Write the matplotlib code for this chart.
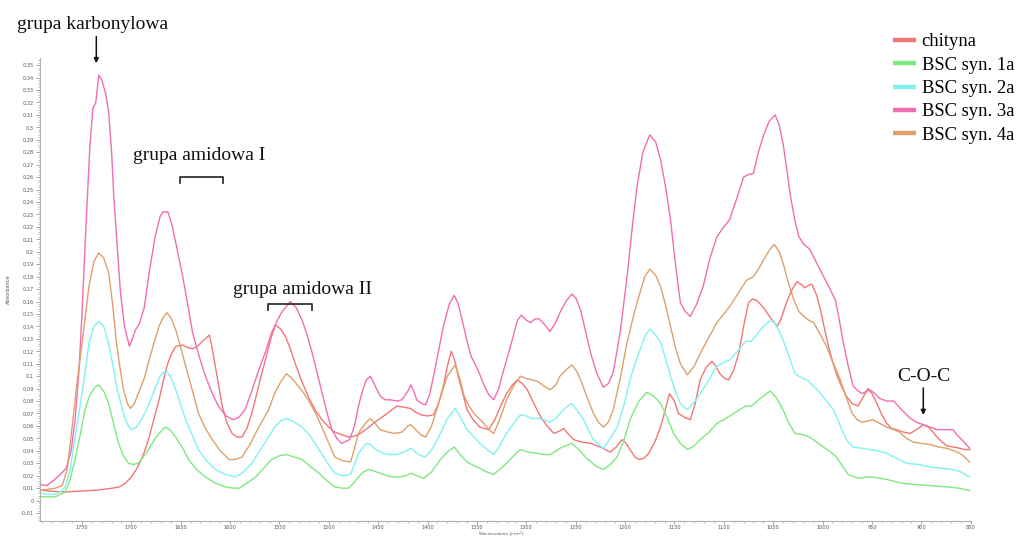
import matplotlib
matplotlib.use("Agg")
import matplotlib.pyplot as plt
from matplotlib.ticker import MultipleLocator, FuncFormatter
from matplotlib.lines import Line2D

# ---- spectra: wavenumber [cm^-1] and absorbance ----
chityna_wn = [1793, 1785, 1774, 1765, 1755, 1743, 1733, 1720, 1712, 1706, 1700, 1695, 1690, 1686, 1682,
              1677, 1672, 1668, 1664, 1660, 1655, 1648, 1643, 1638, 1633, 1628, 1624, 1621, 1618, 1615,
              1611, 1608, 1603, 1598, 1593, 1588, 1583, 1578, 1573, 1568, 1563, 1558, 1554, 1549, 1544,
              1539, 1534, 1528, 1521, 1514, 1507, 1500, 1494, 1487, 1480, 1473, 1468, 1461, 1455, 1448,
              1441, 1436, 1431, 1424, 1417, 1412, 1407, 1400, 1394, 1389, 1384, 1380, 1376, 1372, 1369,
              1364, 1360, 1354, 1347, 1338, 1332, 1326, 1320, 1314, 1309, 1304, 1299, 1293, 1286, 1279,
              1272, 1266, 1262, 1257, 1252, 1244, 1235, 1225, 1215, 1209, 1203, 1199, 1195, 1190, 1186,
              1181, 1176, 1170, 1164, 1159, 1155, 1150, 1146, 1140, 1134, 1129, 1124, 1118, 1112, 1108,
              1104, 1099, 1095, 1090, 1085, 1080, 1075, 1071, 1067, 1062, 1058, 1052, 1046, 1042, 1038,
              1032, 1026, 1022, 1018, 1014, 1011, 1006, 1002, 998, 994, 990, 986, 981, 976, 970,
              964, 959, 954, 950, 945, 940, 935, 930, 925, 918, 911, 905, 898, 893, 888,
              884, 879, 874, 867, 861, 856, 851]
chityna_abs = [0.0085, 0.0078, 0.0072, 0.0070, 0.0075, 0.0080, 0.0085, 0.0099, 0.011, 0.014, 0.019, 0.025, 0.033, 0.041, 0.051,
               0.066, 0.081, 0.095, 0.108, 0.117, 0.124, 0.125, 0.123, 0.122, 0.124, 0.128, 0.131, 0.133, 0.122, 0.108,
               0.090, 0.076, 0.062, 0.054, 0.051, 0.051, 0.058, 0.070, 0.086, 0.102, 0.117, 0.132, 0.141, 0.138, 0.132,
               0.122, 0.110, 0.097, 0.084, 0.073, 0.065, 0.059, 0.055, 0.053, 0.051, 0.052, 0.054, 0.058, 0.062, 0.066,
               0.070, 0.073, 0.076, 0.075, 0.074, 0.071, 0.069, 0.068, 0.069, 0.078, 0.092, 0.108, 0.120, 0.111, 0.100,
               0.085, 0.073, 0.065, 0.059, 0.057, 0.065, 0.076, 0.086, 0.093, 0.097, 0.094, 0.089, 0.079, 0.068, 0.060,
               0.054, 0.056, 0.058, 0.053, 0.049, 0.047, 0.046, 0.043, 0.039, 0.043, 0.049, 0.046, 0.041, 0.035, 0.033,
               0.034, 0.038, 0.047, 0.059, 0.074, 0.086, 0.080, 0.070, 0.067, 0.065, 0.078, 0.097, 0.107, 0.112, 0.108,
               0.102, 0.098, 0.097, 0.105, 0.118, 0.140, 0.159, 0.162, 0.161, 0.157, 0.153, 0.146, 0.140, 0.146, 0.156,
               0.168, 0.176, 0.174, 0.171, 0.173, 0.174, 0.165, 0.153, 0.138, 0.124, 0.112, 0.102, 0.092, 0.084, 0.078,
               0.076, 0.083, 0.090, 0.086, 0.078, 0.069, 0.062, 0.058, 0.057, 0.055, 0.054, 0.057, 0.061, 0.059, 0.055,
               0.051, 0.047, 0.044, 0.043, 0.042, 0.041, 0.041]

syn1a_wn = [1793, 1785, 1777, 1772, 1767, 1762, 1757, 1752, 1747, 1742, 1737, 1733, 1728, 1723, 1718,
            1713, 1708, 1703, 1698, 1693, 1686, 1679, 1673, 1666, 1661, 1655, 1648, 1642, 1634, 1625,
            1615, 1605, 1597, 1591, 1583, 1574, 1566, 1558, 1550, 1543, 1535, 1527, 1518, 1510, 1502,
            1494, 1487, 1480, 1475, 1470, 1465, 1460, 1455, 1445, 1436, 1428, 1422, 1417, 1411, 1404,
            1396, 1387, 1380, 1373, 1367, 1360, 1353, 1347, 1340, 1333, 1327, 1320, 1313, 1306, 1298,
            1289, 1282, 1276, 1266, 1254, 1247, 1239, 1230, 1222, 1215, 1208, 1201, 1195, 1186, 1178,
            1171, 1164, 1157, 1151, 1144, 1137, 1130, 1124, 1115, 1107, 1100, 1094, 1086, 1078, 1072,
            1066, 1060, 1053, 1047, 1040, 1034, 1028, 1020, 1013, 1006, 999, 992, 986, 980, 974,
            968, 962, 956, 950, 943, 935, 920, 908, 890, 874, 862, 851]
syn1a_abs = [0.003, 0.003, 0.003, 0.005, 0.007, 0.017, 0.033, 0.052, 0.073, 0.085, 0.091, 0.093, 0.088, 0.078, 0.062,
             0.046, 0.036, 0.030, 0.029, 0.030, 0.037, 0.046, 0.053, 0.059, 0.057, 0.051, 0.042, 0.033, 0.025, 0.019,
             0.014, 0.011, 0.010, 0.010, 0.014, 0.019, 0.026, 0.033, 0.036, 0.037, 0.035, 0.033, 0.027, 0.022, 0.016,
             0.011, 0.010, 0.010, 0.014, 0.019, 0.023, 0.025, 0.024, 0.021, 0.019, 0.019, 0.020, 0.022, 0.020, 0.018,
             0.023, 0.033, 0.039, 0.043, 0.037, 0.031, 0.028, 0.026, 0.023, 0.021, 0.025, 0.030, 0.036, 0.041, 0.039,
             0.038, 0.037, 0.037, 0.042, 0.046, 0.041, 0.034, 0.028, 0.025, 0.029, 0.035, 0.049, 0.065, 0.080, 0.087,
             0.084, 0.078, 0.066, 0.054, 0.046, 0.041, 0.044, 0.049, 0.055, 0.062, 0.065, 0.068, 0.072, 0.076, 0.076,
             0.080, 0.084, 0.088, 0.083, 0.073, 0.062, 0.054, 0.053, 0.051, 0.047, 0.043, 0.039, 0.035, 0.028, 0.021,
             0.019, 0.018, 0.019, 0.019, 0.018, 0.017, 0.014, 0.013, 0.012, 0.011, 0.010, 0.008]

syn2a_wn = [1793, 1785, 1778, 1772, 1767, 1762, 1758, 1754, 1750, 1746, 1743, 1738, 1733, 1728, 1723,
            1719, 1715, 1710, 1706, 1703, 1700, 1695, 1690, 1684, 1679, 1675, 1671, 1667, 1664, 1660,
            1655, 1650, 1645, 1638, 1632, 1624, 1615, 1605, 1595, 1588, 1578, 1570, 1561, 1555, 1549,
            1543, 1537, 1531, 1527, 1520, 1514, 1510, 1502, 1494, 1486, 1478, 1474, 1470, 1466, 1462,
            1458, 1452, 1445, 1438, 1431, 1424, 1417, 1411, 1406, 1402, 1395, 1387, 1380, 1372, 1366,
            1360, 1353, 1347, 1340, 1333, 1327, 1320, 1313, 1306, 1300, 1295, 1289, 1282, 1276, 1270,
            1266, 1260, 1254, 1248, 1242, 1236, 1232, 1227, 1222, 1215, 1208, 1201, 1195, 1190, 1185,
            1180, 1175, 1169, 1164, 1159, 1154, 1149, 1144, 1137, 1130, 1124, 1116, 1107, 1100, 1094,
            1086, 1078, 1072, 1066, 1060, 1054, 1050, 1045, 1040, 1034, 1028, 1022, 1016, 1009, 1002,
            996, 989, 984, 979, 974, 969, 960, 952, 944, 935, 925, 915, 903, 891, 880,
            868, 860, 851]
syn2a_abs = [0.006, 0.005, 0.005, 0.007, 0.011, 0.025, 0.046, 0.066, 0.086, 0.108, 0.126, 0.140, 0.144, 0.140, 0.126,
             0.110, 0.092, 0.076, 0.065, 0.060, 0.057, 0.059, 0.065, 0.074, 0.084, 0.092, 0.100, 0.103, 0.104, 0.099,
             0.089, 0.077, 0.065, 0.052, 0.041, 0.032, 0.025, 0.021, 0.019, 0.022, 0.030, 0.040, 0.051, 0.059, 0.064,
             0.066, 0.064, 0.061, 0.059, 0.053, 0.046, 0.041, 0.031, 0.022, 0.020, 0.021, 0.029, 0.038, 0.042, 0.046,
             0.045, 0.041, 0.038, 0.037, 0.037, 0.039, 0.042, 0.038, 0.036, 0.035, 0.042, 0.054, 0.066, 0.074, 0.066,
             0.057, 0.051, 0.046, 0.041, 0.037, 0.044, 0.054, 0.062, 0.069, 0.068, 0.066, 0.066, 0.065, 0.063, 0.066,
             0.070, 0.075, 0.078, 0.072, 0.065, 0.055, 0.049, 0.045, 0.042, 0.050, 0.059, 0.077, 0.097, 0.110, 0.121,
             0.132, 0.138, 0.133, 0.127, 0.114, 0.100, 0.088, 0.078, 0.073, 0.079, 0.086, 0.096, 0.108, 0.111, 0.113,
             0.120, 0.128, 0.128, 0.134, 0.140, 0.144, 0.145, 0.138, 0.129, 0.116, 0.102, 0.099, 0.097, 0.092, 0.086,
             0.080, 0.073, 0.064, 0.054, 0.047, 0.043, 0.042, 0.041, 0.040, 0.038, 0.034, 0.030, 0.029, 0.027, 0.026,
             0.025, 0.023, 0.019]

syn3a_wn = [1793, 1786, 1779, 1772, 1766, 1761, 1757, 1753, 1750, 1746, 1742, 1739, 1736, 1733, 1730,
            1726, 1723, 1720, 1718, 1714, 1711, 1707, 1702, 1699, 1696, 1692, 1687, 1682, 1676, 1671,
            1668, 1663, 1659, 1655, 1648, 1643, 1638, 1631, 1625, 1618, 1612, 1604, 1597, 1591, 1585,
            1578, 1571, 1564, 1558, 1552, 1548, 1543, 1539, 1533, 1527, 1522, 1517, 1512, 1507, 1502,
            1497, 1492, 1487, 1479, 1474, 1470, 1466, 1462, 1458, 1453, 1448, 1443, 1438, 1431, 1426,
            1420, 1417, 1414, 1411, 1406, 1402, 1398, 1394, 1389, 1384, 1378, 1373, 1369, 1365, 1360,
            1356, 1352, 1348, 1343, 1338, 1333, 1328, 1324, 1320, 1314, 1309, 1305, 1300, 1296, 1291,
            1287, 1282, 1276, 1271, 1266, 1260, 1254, 1250, 1245, 1240, 1235, 1229, 1222, 1217, 1212,
            1205, 1198, 1192, 1188, 1182, 1175, 1169, 1164, 1159, 1154, 1149, 1144, 1139, 1134, 1128,
            1121, 1114, 1107, 1100, 1094, 1086, 1080, 1075, 1070, 1065, 1060, 1054, 1048, 1044, 1040,
            1036, 1033, 1028, 1024, 1019, 1013, 1006, 999, 993, 987, 983, 979, 974, 969, 964,
            960, 955, 952, 947, 942, 935, 928, 920, 911, 905, 898, 891, 884, 876, 868,
            864, 859, 851]
syn3a_abs = [0.013, 0.012, 0.016, 0.021, 0.026, 0.040, 0.065, 0.105, 0.150, 0.220, 0.285, 0.315, 0.320, 0.342, 0.338,
             0.327, 0.312, 0.280, 0.247, 0.200, 0.167, 0.140, 0.124, 0.130, 0.137, 0.142, 0.155, 0.183, 0.212, 0.228,
             0.232, 0.232, 0.222, 0.207, 0.180, 0.158, 0.135, 0.115, 0.100, 0.086, 0.076, 0.068, 0.065, 0.067, 0.073,
             0.088, 0.105, 0.120, 0.135, 0.145, 0.151, 0.156, 0.160, 0.155, 0.145, 0.133, 0.119, 0.103, 0.087, 0.071,
             0.057, 0.050, 0.046, 0.049, 0.060, 0.076, 0.088, 0.097, 0.100, 0.092, 0.084, 0.081, 0.081, 0.080, 0.081,
             0.088, 0.093, 0.088, 0.081, 0.078, 0.077, 0.085, 0.100, 0.120, 0.140, 0.158, 0.165, 0.158, 0.145, 0.128,
             0.116, 0.110, 0.103, 0.093, 0.085, 0.081, 0.090, 0.102, 0.113, 0.130, 0.145, 0.149, 0.145, 0.143, 0.146,
             0.146, 0.142, 0.136, 0.142, 0.151, 0.160, 0.166, 0.163, 0.153, 0.136, 0.119, 0.103, 0.091, 0.094, 0.103,
             0.135, 0.180, 0.225, 0.252, 0.280, 0.294, 0.288, 0.274, 0.252, 0.226, 0.190, 0.159, 0.152, 0.148, 0.157,
             0.172, 0.195, 0.212, 0.220, 0.226, 0.245, 0.260, 0.262, 0.263, 0.280, 0.293, 0.305, 0.310, 0.302, 0.287,
             0.265, 0.247, 0.225, 0.212, 0.206, 0.202, 0.191, 0.180, 0.171, 0.161, 0.145, 0.127, 0.108, 0.092, 0.088,
             0.086, 0.088, 0.089, 0.086, 0.082, 0.080, 0.080, 0.073, 0.066, 0.063, 0.061, 0.059, 0.057, 0.057, 0.057,
             0.053, 0.049, 0.042]

syn4a_wn = [1793, 1785, 1777, 1770, 1765, 1760, 1755, 1750, 1746, 1743, 1738, 1733, 1728, 1723, 1719,
            1715, 1711, 1708, 1704, 1701, 1697, 1693, 1687, 1682, 1677, 1672, 1668, 1664, 1660, 1655,
            1650, 1645, 1638, 1632, 1625, 1618, 1610, 1601, 1595, 1588, 1580, 1571, 1566, 1561, 1555,
            1549, 1543, 1537, 1531, 1526, 1521, 1514, 1507, 1500, 1494, 1486, 1478, 1474, 1470, 1465,
            1462, 1458, 1453, 1448, 1440, 1434, 1426, 1420, 1417, 1412, 1407, 1402, 1396, 1390, 1385,
            1380, 1372, 1367, 1363, 1358, 1353, 1348, 1343, 1338, 1333, 1327, 1320, 1313, 1306, 1300,
            1294, 1289, 1282, 1276, 1270, 1266, 1260, 1254, 1249, 1245, 1238, 1232, 1227, 1222, 1217,
            1212, 1205, 1198, 1191, 1185, 1180, 1175, 1169, 1164, 1159, 1154, 1149, 1144, 1137, 1130,
            1124, 1116, 1107, 1100, 1094, 1086, 1077, 1070, 1065, 1060, 1054, 1049, 1044, 1040, 1035,
            1029, 1024, 1019, 1014, 1009, 1002, 996, 989, 982, 976, 970, 965, 960, 954, 949,
            942, 935, 928, 922, 915, 908, 900, 891, 882, 874, 867, 861, 856, 851]
syn4a_abs = [0.0085, 0.009, 0.010, 0.012, 0.025, 0.059, 0.095, 0.126, 0.152, 0.172, 0.192, 0.199, 0.195, 0.183, 0.158,
             0.126, 0.104, 0.089, 0.078, 0.074, 0.078, 0.086, 0.098, 0.113, 0.127, 0.140, 0.147, 0.151, 0.147, 0.137,
             0.123, 0.108, 0.088, 0.070, 0.058, 0.049, 0.040, 0.033, 0.033, 0.035, 0.045, 0.059, 0.066, 0.073, 0.086,
             0.095, 0.102, 0.098, 0.092, 0.087, 0.081, 0.071, 0.059, 0.046, 0.035, 0.032, 0.031, 0.042, 0.054, 0.060,
             0.063, 0.066, 0.062, 0.057, 0.055, 0.054, 0.055, 0.060, 0.061, 0.057, 0.053, 0.051, 0.060, 0.075, 0.088,
             0.100, 0.109, 0.097, 0.084, 0.076, 0.070, 0.066, 0.062, 0.057, 0.054, 0.065, 0.081, 0.092, 0.100, 0.098,
             0.097, 0.096, 0.092, 0.089, 0.093, 0.100, 0.105, 0.109, 0.104, 0.097, 0.082, 0.070, 0.063, 0.059, 0.063,
             0.073, 0.098, 0.127, 0.150, 0.167, 0.180, 0.186, 0.181, 0.172, 0.157, 0.140, 0.123, 0.110, 0.101, 0.108,
             0.118, 0.130, 0.143, 0.150, 0.156, 0.166, 0.177, 0.180, 0.186, 0.193, 0.201, 0.206, 0.200, 0.191, 0.176,
             0.161, 0.152, 0.148, 0.145, 0.143, 0.133, 0.124, 0.110, 0.097, 0.083, 0.070, 0.065, 0.063, 0.064, 0.065,
             0.062, 0.059, 0.057, 0.055, 0.050, 0.047, 0.046, 0.045, 0.043, 0.042, 0.040, 0.038, 0.035, 0.031]

series_labels = ["chityna", "BSC syn. 1a", "BSC syn. 2a", "BSC syn. 3a", "BSC syn. 4a"]
series_colors = ["#F27676", "#7FE97F", "#80F2F2", "#F26DB2", "#DFA06A"]

ytick_values = [round(-0.01 + 0.01 * i, 2) for i in range(37)]
xtick_values = [1750, 1700, 1650, 1600, 1550, 1500, 1450, 1400, 1350, 1300,
                1250, 1200, 1150, 1100, 1050, 1000, 950, 900, 850]

serif = "Liberation Serif"
ink = "#111111"

fig = plt.figure(figsize=(10.16, 5.40), dpi=100)
ax = fig.add_axes([0.0394, 0.0352, 0.916, 0.8574])

spectra = [(chityna_wn, chityna_abs), (syn1a_wn, syn1a_abs), (syn2a_wn, syn2a_abs),
           (syn3a_wn, syn3a_abs), (syn4a_wn, syn4a_abs)]
for (wn, ab), col in zip(spectra, series_colors):
    ax.plot(wn, ab, color=col, lw=1.0, solid_joinstyle="round")

ax.set_xlim(1792.5, 850)
ax.set_ylim(-0.0164, 0.3557)

for side in ("top", "right"):
    ax.spines[side].set_visible(False)
for side in ("left", "bottom"):
    ax.spines[side].set_color("#b0b0b0")
    ax.spines[side].set_linewidth(0.8)


def comma_fmt(v, _pos=None):
    s = f"{v:.2f}".rstrip("0").rstrip(".")
    if s in ("-0", ""):
        s = "0"
    return s.replace(".", ",")


ax.set_yticks(ytick_values)
ax.yaxis.set_major_formatter(FuncFormatter(comma_fmt))
ax.yaxis.set_minor_locator(MultipleLocator(0.002))
ax.set_xticks(xtick_values)
ax.xaxis.set_minor_locator(MultipleLocator(10))
ax.tick_params(which="major", length=3, width=0.6, color="#999999",
               labelsize=3.6, labelcolor="#555555", pad=1.5)
ax.tick_params(which="minor", length=1.6, width=0.5, color="#aaaaaa")
ax.tick_params(axis="x", which="major", length=2.5, pad=0.5)

ax.set_ylabel("Absorbance", fontsize=3.6, color="#555555", labelpad=7)
ax.set_xlabel("Wavenumbers [cm$^{-1}$]", fontsize=3.0, color="#555555")
ax.xaxis.label.set_verticalalignment("bottom")
ax.xaxis.set_label_coords(0.4953, -0.0389)

# band annotations
arrow_kw = dict(arrowstyle="-|>", color=ink, lw=1.1, mutation_scale=7, shrinkA=0, shrinkB=0)
ax.text(1739.5, 0.3823, "grupa karbonylowa", fontsize=14, family=serif, color=ink,
        ha="center", va="center")
ax.annotate("", xy=(1735.5, 0.3515), xytext=(1735.5, 0.3729), arrowprops=arrow_kw,
            annotation_clip=False)
ax.text(897.3, 0.0996, "C-O-C", fontsize=14, family=serif, color=ink,
        ha="center", va="center")
ax.annotate("", xy=(898, 0.0688), xytext=(898, 0.0905), arrowprops=arrow_kw,
            annotation_clip=False)
ax.text(1631, 0.277, "grupa amidowa I", fontsize=14, family=serif, color=ink,
        ha="center", va="center")
ax.text(1527, 0.1693, "grupa amidowa II", fontsize=14, family=serif, color=ink,
        ha="center", va="center")

for x0, x1, top, bot in [(1650.3, 1607.0, 0.2604, 0.2550), (1561.2, 1516.9, 0.1580, 0.1532)]:
    ax.plot([x0, x0, x1, x1], [bot, top, top, bot], color="#333333", lw=1.3,
            solid_joinstyle="round", clip_on=False)

handles = [Line2D([], [], color=c, lw=3.2, solid_capstyle="butt") for c in series_colors]
fig.legend(handles, series_labels, loc="upper left", bbox_to_anchor=(0.872, 0.952),
           frameon=False, prop={"family": serif, "size": 13.4}, handlelength=1.2,
           handletextpad=0.32, labelspacing=0.34, borderaxespad=0)

fig.savefig("out.png", dpi=100)
